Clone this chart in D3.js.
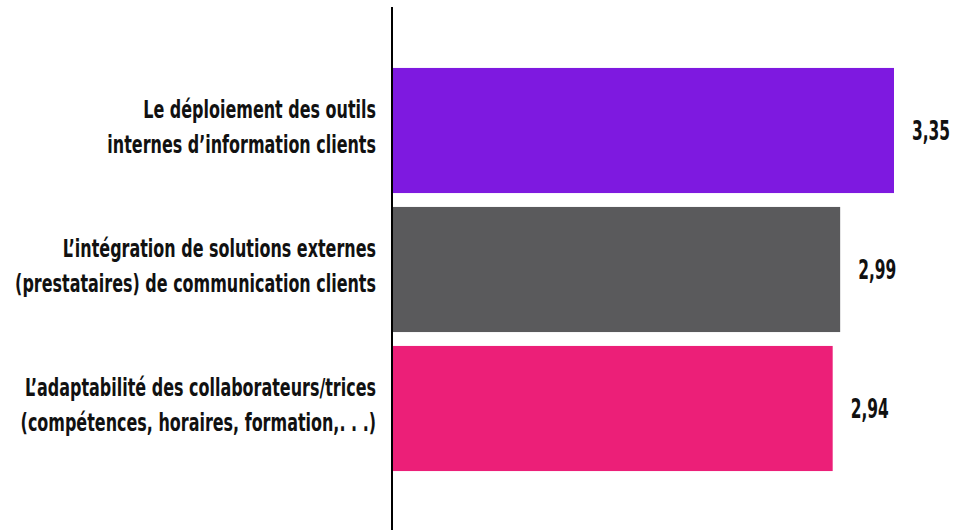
<!DOCTYPE html>
<html>
<head>
<meta charset="utf-8">
<script src="https://cdn.jsdelivr.net/npm/d3@7"></script>
<style>
  html, body { margin: 0; padding: 0; background: #ffffff; }
  svg { display: block; }
  .lbl { font-family: "DejaVu Sans Condensed", "DejaVu Sans", sans-serif; font-weight: bold; fill: #111111; }
</style>
</head>
<body>
<svg id="chart" width="958" height="530"></svg>
<script>
// Categories (two lines each), scores and bar colours
const categories = [
  ["Le déploiement des outils", "internes d’information clients"],
  ["L’intégration de solutions externes", "(prestataires) de communication clients"],
  ["L’adaptabilité des collaborateurs/trices", "(compétences, horaires, formation,. . .)"]
];
const values = [3.35, 2.99, 2.94];
const valueLabels = ["3,35", "2,99", "2,94"];
const colors = ["#7e19e0", "#5a5a5c", "#ec1f78"];

const svg = d3.select("#chart");
const W = 958, H = 530;
const x0 = 393;

const x = d3.scaleLinear().domain([0, 3.35]).range([x0, 894]);
const y = d3.scaleBand()
  .domain(d3.range(values.length))
  .range([61, 478])
  .paddingInner(0.1)
  .paddingOuter(0.05);

// Bars
svg.selectAll("rect.bar")
  .data(values)
  .join("rect")
  .attr("class", "bar")
  .attr("x", x(0))
  .attr("y", (d, i) => y(i))
  .attr("width", d => x(d) - x(0))
  .attr("height", y.bandwidth())
  .attr("fill", (d, i) => colors[i]);

// Vertical axis line
svg.append("line")
  .attr("x1", x0 - 1).attr("x2", x0 - 1)
  .attr("y1", 7).attr("y2", H)
  .attr("stroke", "#000").attr("stroke-width", 2);

// Condensed look: squeeze the glyphs horizontally
const squeeze = 0.71;
const valueSqueeze = 0.66;

// Category labels, right-aligned against the axis
const cat = svg.selectAll("g.cat")
  .data(categories)
  .join("g")
  .attr("class", "cat")
  .attr("transform", (d, i) => `translate(376, ${y(i) + y.bandwidth() / 2}) scale(${squeeze},1)`);

cat.selectAll("text")
  .data(d => d)
  .join("text")
  .attr("class", "lbl")
  .attr("text-anchor", "end")
  .attr("y", (d, j) => j === 0 ? -12.5 : 22.5)
  .style("font-size", "25px")
  .text(d => d);

// Value labels at the end of each bar
svg.selectAll("g.val")
  .data(values)
  .join("g")
  .attr("class", "val")
  .attr("transform", (d, i) => `translate(${x(d) + 18}, ${y(i) + y.bandwidth() / 2 + 9.5}) scale(${valueSqueeze},1)`)
  .append("text")
  .attr("class", "lbl")
  .style("font-size", "26px")
  .text((d, i) => valueLabels[i]);
</script>
</body>
</html>
